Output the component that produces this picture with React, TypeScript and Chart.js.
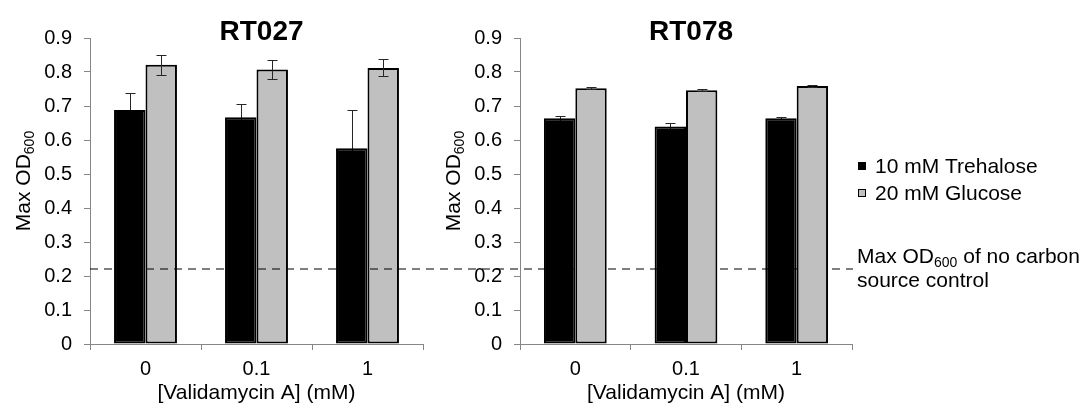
import React, { useEffect, useRef } from 'react';
import { Chart, registerables } from 'chart.js';

Chart.register(...registerables);

// ---- data ----
const categories = ['0', '0.1', '1'];
const seriesLabels = ['10 mM Trehalose', '20 mM Glucose'];
const panelTitles = ['RT027', 'RT078'];

const rt027Trehalose = [0.688, 0.667, 0.576];
const rt027TrehaloseErr = [0.05, 0.04, 0.112];
const rt027Glucose = [0.821, 0.807, 0.812];
const rt027GlucoseErr = [0.029, 0.027, 0.025];

const rt078Trehalose = [0.664, 0.64, 0.664];
const rt078TrehaloseErr = [0.008, 0.01, 0.003];
const rt078Glucose = [0.752, 0.746, 0.759];
const rt078GlucoseErr = [0.003, 0.003, 0.004];

const noCarbonControl = 0.22;
const yTickLabels = ['0', '0.1', '0.2', '0.3', '0.4', '0.5', '0.6', '0.7', '0.8', '0.9'];
const xAxisTitle = '[Validamycin A] (mM)';

// ---- styles ----
const FONT = '"Liberation Sans", Arial, sans-serif';
const AXIS_GRAY = '#868686';
const TRE_COLOR = '#000000';
const GLU_COLOR = '#c0c0c0';
const TEXT_SIZE = 21;
const SUB_SIZE = 14;

Chart.defaults.font.family = FONT;
Chart.defaults.color = '#000';

function drawErrors(chart: any, dsIndex: number, errs: number[]) {
  const ctx = chart.ctx;
  const meta = chart.getDatasetMeta(dsIndex);
  const ys = chart.scales.y;
  const vals = chart.data.datasets[dsIndex].data as number[];
  ctx.save();
  ctx.strokeStyle = '#262626';
  ctx.lineWidth = 1;
  meta.data.forEach((el: any, j: number) => {
    const x = Math.round(el.x) + 0.5;
    const top = Math.round(ys.getPixelForValue(vals[j] + errs[j])) + 0.5;
    const bot = Math.round(ys.getPixelForValue(vals[j] - errs[j])) + 0.5;
    ctx.beginPath();
    ctx.moveTo(x, top);
    ctx.lineTo(x, bot);
    ctx.moveTo(x - 5, top);
    ctx.lineTo(x + 5, top);
    ctx.moveTo(x - 5, bot);
    ctx.lineTo(x + 5, bot);
    ctx.stroke();
  });
  ctx.restore();
}

function drawSubText(ctx: CanvasRenderingContext2D, x: number, y: number, parts: [string, boolean][]) {
  let cx = x;
  for (const [t, sub] of parts) {
    ctx.font = sub ? `${SUB_SIZE}px ${FONT}` : `${TEXT_SIZE}px ${FONT}`;
    ctx.fillText(t, cx, sub ? y + 4 : y);
    cx += ctx.measureText(t).width;
  }
}

type PanelOpts = {
  title: string;
  tre: number[];
  treErr: number[];
  glu: number[];
  gluErr: number[];
  padLeft: number;
  padRight: number;
  drawDash: boolean;
  drawLegend: boolean;
};

function makeConfig(o: PanelOpts): any {
  const plugin = {
    id: 'custom-' + o.title,
    beforeDatasetsDraw(chart: any) {
      drawErrors(chart, 0, o.treErr);
    },
    afterDatasetsDraw(chart: any) {
      drawErrors(chart, 1, o.gluErr);
      const ctx = chart.ctx as CanvasRenderingContext2D;
      const area = chart.chartArea;
      const ys = chart.scales.y;
      if (o.drawDash) {
        const y = Math.round(ys.getPixelForValue(noCarbonControl));
        ctx.save();
        ctx.strokeStyle = 'rgba(0,0,0,0.5)';
        ctx.lineWidth = 2;
        ctx.setLineDash([8, 6]);
        ctx.beginPath();
        ctx.moveTo(area.left, y);
        ctx.lineTo(853, y);
        ctx.stroke();
        ctx.restore();
      }
    },
    afterDraw(chart: any) {
      const ctx = chart.ctx as CanvasRenderingContext2D;
      const area = chart.chartArea;
      ctx.save();
      ctx.fillStyle = '#000';
      // panel title
      ctx.font = `bold 28px ${FONT}`;
      ctx.textAlign = 'center';
      ctx.textBaseline = 'alphabetic';
      ctx.fillText(o.title, (area.left + area.right) / 2 + 5, 40);
      // y axis title (rotated, with subscript)
      ctx.textAlign = 'left';
      ctx.save();
      ctx.translate(area.left - 60, 181);
      ctx.rotate(-Math.PI / 2);
      ctx.font = `${TEXT_SIZE}px ${FONT}`;
      const w1 = ctx.measureText('Max OD').width;
      ctx.font = `${SUB_SIZE}px ${FONT}`;
      const w2 = ctx.measureText('600').width;
      drawSubText(ctx, -(w1 + w2) / 2, 0, [['Max OD', false], ['600', true]]);
      ctx.restore();
      if (o.drawLegend) {
        const ds = chart.data.datasets;
        const rows = [173, 200];
        ds.forEach((d: any, i: number) => {
          const sy = rows[i] - 11;
          ctx.fillStyle = d.backgroundColor;
          ctx.fillRect(858, sy, 8, 8);
          ctx.strokeStyle = '#000';
          ctx.lineWidth = 1;
          ctx.strokeRect(858.5, sy + 0.5, 7, 7);
          ctx.fillStyle = '#000';
          ctx.font = `${TEXT_SIZE}px ${FONT}`;
          ctx.fillText(d.label, 875, rows[i]);
        });
        drawSubText(ctx, 857, 263, [['Max OD', false], ['600', true], [' of no carbon', false]]);
        ctx.font = `${TEXT_SIZE}px ${FONT}`;
        ctx.fillText('source control', 857, 287);
      }
      ctx.restore();
    },
  };

  return {
    type: 'bar',
    data: {
      labels: categories,
      datasets: [
        {
          label: seriesLabels[0],
          data: o.tre,
          backgroundColor: TRE_COLOR,
          borderColor: '#000',
          borderWidth: 2,
          borderSkipped: false,
          categoryPercentage: 0.567,
          barPercentage: 1,
        },
        {
          label: seriesLabels[1],
          data: o.glu,
          backgroundColor: GLU_COLOR,
          borderColor: '#000',
          borderWidth: 2,
          borderSkipped: false,
          categoryPercentage: 0.567,
          barPercentage: 1,
        },
      ],
    },
    options: {
      animation: false,
      responsive: false,
      events: [],
      layout: { padding: { left: o.padLeft, right: o.padRight, top: 38, bottom: 0 } },
      plugins: {
        legend: { display: false },
        title: { display: false },
        tooltip: { enabled: false },
      },
      scales: {
        x: {
          afterFit: (s: any) => {
            s.height = 62;
          },
          grid: {
            offset: true,
            drawOnChartArea: false,
            drawTicks: true,
            tickLength: 6,
            color: AXIS_GRAY,
          },
          border: { display: true, color: AXIS_GRAY, width: 1 },
          ticks: { font: { size: 20 }, color: '#000', padding: 7, maxRotation: 0 },
          title: {
            display: true,
            text: xAxisTitle,
            font: { size: TEXT_SIZE },
            color: '#000',
            padding: { top: 0, bottom: 0 },
          },
        },
        y: {
          min: 0,
          max: 0.9,
          afterFit: (s: any) => {
            s.width = 50;
          },
          ticks: {
            stepSize: 0.1,
            font: { size: 20 },
            color: '#000',
            padding: 12,
            callback: (_v: any, i: number) => yTickLabels[i],
          },
          grid: {
            drawOnChartArea: false,
            drawTicks: true,
            tickLength: 6,
            color: AXIS_GRAY,
          },
          border: { display: true, color: AXIS_GRAY, width: 1 },
        },
      },
    },
    plugins: [plugin],
  };
}

function Panel({ opts }: { opts: PanelOpts }) {
  const ref = useRef<HTMLCanvasElement | null>(null);
  useEffect(() => {
    if (!ref.current) return;
    const chart = new Chart(ref.current, makeConfig(opts));
    return () => chart.destroy();
  }, []);
  return (
    <canvas
      ref={ref}
      width={1084}
      height={406}
      style={{ position: 'absolute', left: 0, top: 0, width: 1084, height: 406 }}
    />
  );
}

export default function App() {
  return (
    <div style={{ position: 'absolute', left: 0, top: 0, width: 1084, height: 406, background: '#fff' }}>
      <Panel
        opts={{
          title: panelTitles[0],
          tre: rt027Trehalose,
          treErr: rt027TrehaloseErr,
          glu: rt027Glucose,
          gluErr: rt027GlucoseErr,
          padLeft: 40,
          padRight: 661,
          drawDash: true,
          drawLegend: false,
        }}
      />
      <Panel
        opts={{
          title: panelTitles[1],
          tre: rt078Trehalose,
          treErr: rt078TrehaloseErr,
          glu: rt078Glucose,
          gluErr: rt078GlucoseErr,
          padLeft: 470,
          padRight: 232,
          drawDash: false,
          drawLegend: true,
        }}
      />
    </div>
  );
}
